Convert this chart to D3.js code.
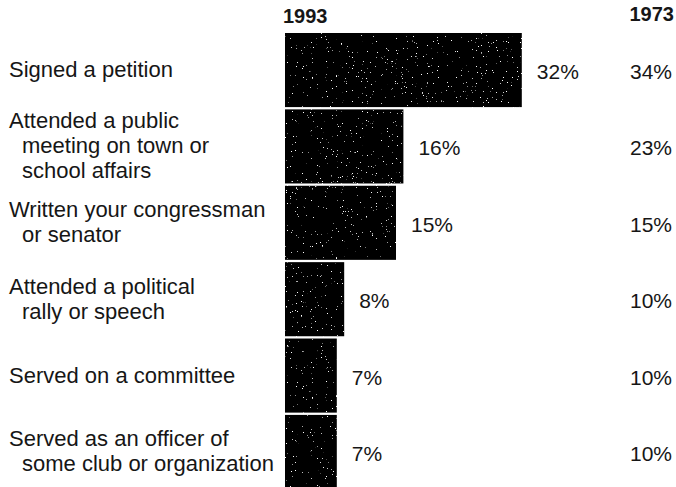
<!DOCTYPE html>
<html>
<head>
<meta charset="utf-8">
<script src="https://cdn.jsdelivr.net/npm/d3@7"></script>
<style>
  html, body { margin: 0; padding: 0; background: #fff; }
  svg { display: block; }
  text { font-family: "Liberation Sans", Arial, Helvetica, sans-serif; fill: #161616; }
</style>
</head>
<body>
<svg id="chart" width="676" height="487"></svg>
<script>
// Activities, each label split into its printed lines
const activities = [
  ["Signed a petition"],
  ["Attended a public", "meeting on town or", "school affairs"],
  ["Written your congressman", "or senator"],
  ["Attended a political", "rally or speech"],
  ["Served on a committee"],
  ["Served as an officer of", "some club or organization"]
];
const years = ["1993", "1973"];
const values1993 = [32, 16, 15, 8, 7, 7];
const values1973 = [34, 23, 15, 10, 10, 10];

const svg = d3.select("#chart");
const labelSize = 22;
const valueSize = 21;

const rows = d3.range(activities.length);

const x = d3.scaleLinear().domain([0, 40]).range([285, 285 + 296]);
const y = d3.scaleBand().domain(rows).range([33, 489]).paddingInner(0.03).paddingOuter(0);

// Sparse speckled print texture for the bars
const defs = svg.append("defs");
const grain = defs.append("filter").attr("id", "grain")
  .attr("x", 0).attr("y", 0).attr("width", 1).attr("height", 1)
  .attr("filterUnits", "objectBoundingBox");
grain.append("feTurbulence")
  .attr("type", "fractalNoise").attr("baseFrequency", 0.8)
  .attr("numOctaves", 2).attr("seed", 7).attr("result", "noise");
grain.append("feColorMatrix").attr("in", "noise").attr("type", "matrix")
  .attr("values", "0 0 0 0 1  0 0 0 0 1  0 0 0 0 1  16 0 0 0 -11.6")
  .attr("result", "dots");
grain.append("feComposite").attr("in", "dots").attr("in2", "SourceGraphic")
  .attr("operator", "atop");

// Column headers
svg.append("text")
  .attr("x", x(0) - 2).attr("y", 23)
  .attr("font-size", 20).attr("font-weight", "bold")
  .text(years[0]);
svg.append("text")
  .attr("x", 674).attr("y", 21)
  .attr("text-anchor", "end")
  .attr("font-size", 20).attr("font-weight", "bold")
  .text(years[1]);

// Bars for 1993
svg.append("g").selectAll("rect")
  .data(values1993)
  .join("rect")
  .attr("x", x(0))
  .attr("y", (d, i) => y(i))
  .attr("width", d => x(d) - x(0))
  .attr("height", y.bandwidth())
  .attr("fill", "#050505")
  .attr("filter", "url(#grain)");

// 1993 value labels beside the bars
svg.append("g").selectAll("text")
  .data(values1993)
  .join("text")
  .attr("x", d => x(d) + 15)
  .attr("y", (d, i) => y(i) + y.bandwidth() / 2 + 9)
  .attr("font-size", valueSize)
  .text(d => d + "%");

// 1973 values in the right column
svg.append("g").selectAll("text")
  .data(values1973)
  .join("text")
  .attr("x", 672)
  .attr("y", (d, i) => y(i) + y.bandwidth() / 2 + 9)
  .attr("text-anchor", "end")
  .attr("font-size", valueSize)
  .text(d => d + "%");

// Activity labels, continuation lines indented
const lineH = 25;
const labels = svg.append("g").selectAll("text")
  .data(activities)
  .join("text")
  .attr("font-size", labelSize)
  .attr("y", (lines, i) => y(i) + y.bandwidth() / 2 + 7 - (lines.length - 1) * lineH / 2);
labels.selectAll("tspan")
  .data(lines => lines)
  .join("tspan")
  .attr("x", (t, j) => j === 0 ? 9 : 22)
  .attr("dy", (t, j) => j === 0 ? 0 : lineH)
  .text(t => t);
</script>
</body>
</html>
